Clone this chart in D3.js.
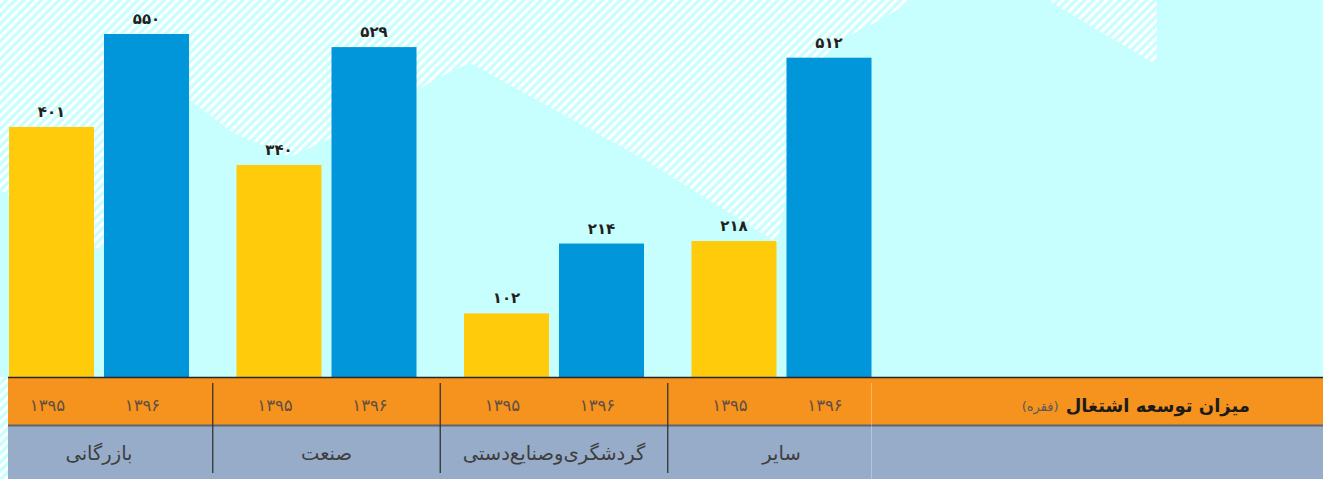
<!DOCTYPE html>
<html><head><meta charset="utf-8">
<script src="https://cdn.jsdelivr.net/npm/d3@7"></script>
<style>
  html,body{margin:0;padding:0;background:#c7fefe;}
  svg{display:block;}
</style>
</head>
<body>
<svg id="chart" width="1323" height="479"></svg>
<script>
// ---- data ----
const categories = ["بازرگانی", "صنعت", "گردشگری\u200cو\u200cصنایع\u200cدستی", "سایر"];
const years = ["1395", "1396"];
const values1395 = [401, 340, 102, 218];
const values1396 = [550, 529, 214, 512];
const seriesColors = ["#ffcb0b", "#0096d9"];
const titleText = "میزان توسعه اشتغال";
const unitText = "(فقره)";

const toFa = s => String(s).replace(/\d/g, d => "۰۱۲۳۴۵۶۷۸۹"[+d]);

const W = 1323, H = 479;
const baseY = 377;
const svg = d3.select("#chart");

// ---- background ----
const defs = svg.append("defs");
const P = 6.2;
const pat = defs.append("pattern")
  .attr("id", "hatch").attr("patternUnits", "userSpaceOnUse")
  .attr("width", P).attr("height", P)
  .attr("patternTransform", "rotate(45)");
pat.append("rect").attr("width", P).attr("height", P).attr("fill", "#c7fefe");
pat.append("rect").attr("x", 0).attr("width", 3).attr("height", P).attr("fill", "#ffffff");

svg.append("rect").attr("width", W).attr("height", H).attr("fill", "#c7fefe");

const hatchShapes = [
  "M0,0 L913,0 L880,20 L837,42 L807,77 L786,200 L777,243 L640,157 L470,63 L440,77 L417,90 L331,138 L290,157 L233,133 L190,100 L150,170 L100,250 L0,190 Z",
  "M1048,0 L1157,0 L1157,62 L1152,62 L1097,30 Z",
  "M0,377 L8,377 L8,479 L0,479 Z"
];
svg.append("g").selectAll("path").data(hatchShapes).join("path")
  .attr("d", d => d).attr("fill", "url(#hatch)");

// ---- scales ----
const x0 = d3.scaleBand().domain(categories).range([-14.75, 895.25]).padding(0);
const x1 = d3.scaleBand().domain(years).range([0, x0.bandwidth()])
  .paddingInner(10 / 95).paddingOuter(0.25);
const y = d3.scaleLinear().domain([0, 550]).range([baseY, 34]);

const rows = categories.map((c, i) => ({
  cat: c,
  vals: [
    { year: years[0], v: values1395[i], color: seriesColors[0] },
    { year: years[1], v: values1396[i], color: seriesColors[1] }
  ]
}));

const groups = svg.append("g").selectAll("g").data(rows).join("g")
  .attr("transform", d => `translate(${x0(d.cat)},0)`);

groups.selectAll("rect").data(d => d.vals).join("rect")
  .attr("x", d => x1(d.year))
  .attr("y", d => y(d.v))
  .attr("width", x1.bandwidth())
  .attr("height", d => baseY - y(d.v))
  .attr("fill", d => d.color);

groups.selectAll("text.val").data(d => d.vals).join("text")
  .attr("class", "val")
  .attr("x", d => x1(d.year) + x1.bandwidth() / 2)
  .attr("y", d => y(d.v) - 10)
  .attr("text-anchor", "middle")
  .attr("font-family", "DejaVu Sans")
  .attr("font-weight", "bold")
  .attr("font-size", 15)
  .attr("fill", "#231f20")
  .text(d => toFa(d.v));

// ---- table below ----
const tbl = svg.append("g");
tbl.append("rect").attr("x", 8).attr("y", 378).attr("width", W - 8).attr("height", 47).attr("fill", "#f6921e");
tbl.append("rect").attr("x", 8).attr("y", 426).attr("width", W - 8).attr("height", 53).attr("fill", "#96acc8");
tbl.append("line").attr("x1", 8).attr("x2", W).attr("y1", 377.5).attr("y2", 377.5)
  .attr("stroke", "#262626").attr("stroke-width", 1.5);
tbl.append("line").attr("x1", 8).attr("x2", W).attr("y1", 425.5).attr("y2", 425.5)
  .attr("stroke", "#5e6470").attr("stroke-width", 2);

// dividers between groups
tbl.selectAll("line.div").data(categories.slice(1)).join("line")
  .attr("class", "div")
  .attr("x1", d => x0(d)).attr("x2", d => x0(d))
  .attr("y1", 383).attr("y2", 473)
  .attr("stroke", "#333").attr("stroke-width", 1.3);
const lastEnd = x0(categories[3]) + x1(years[1]) + x1.bandwidth();
tbl.append("line").attr("x1", lastEnd).attr("x2", lastEnd).attr("y1", 383).attr("y2", 479)
  .attr("stroke", "#ffffff").attr("stroke-opacity", 0.3).attr("stroke-width", 1);

// year labels
const yl = tbl.append("g").selectAll("g").data(rows).join("g")
  .attr("transform", d => `translate(${x0(d.cat)},0)`);
yl.selectAll("text").data(d => d.vals).join("text")
  .attr("x", d => x1(d.year) + x1.bandwidth() / 2 - 4)
  .attr("y", 411)
  .attr("text-anchor", "middle")
  .attr("font-family", "DejaVu Sans")
  .attr("font-size", 16.5)
  .attr("fill", "#5e4f42")
  .text(d => toFa(d.year));

// category labels
tbl.selectAll("text.cat").data(categories).join("text")
  .attr("class", "cat")
  .attr("x", d => x0(d) + x0.bandwidth() / 2)
  .attr("y", 460)
  .attr("text-anchor", "middle")
  .attr("font-family", "DejaVu Sans")
  .attr("font-size", 19.5)
  .attr("fill", "#3e3e3e")
  .text(d => d);

// title
const title = tbl.append("text")
  .attr("x", 1250).attr("y", 412)
  .attr("text-anchor", "end")
  .attr("font-family", "DejaVu Sans")
  .attr("font-weight", "bold")
  .attr("font-size", 18)
  .attr("fill", "#1c1c1c")
  .text(titleText);
const tLeft = title.node().getBBox().x;
tbl.append("text")
  .attr("x", tLeft - 7).attr("y", 411)
  .attr("direction", "rtl")
  .attr("unicode-bidi", "embed")
  .attr("text-anchor", "start")
  .attr("font-family", "DejaVu Sans")
  .attr("font-size", 13)
  .attr("fill", "#5a5a5a")
  .text(unitText);
</script>
</body></html>
